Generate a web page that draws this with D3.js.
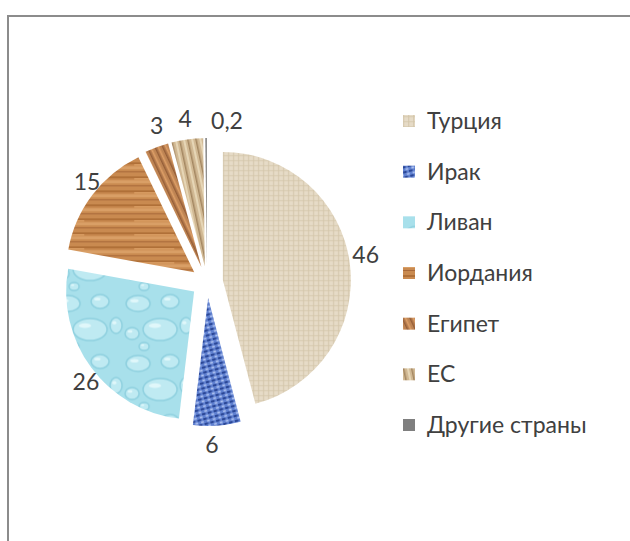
<!DOCTYPE html>
<html>
<head>
<meta charset="utf-8">
<script src="https://cdn.jsdelivr.net/npm/d3@7"></script>
<style>
  body { margin: 0; background: #fff; }
  text { font-family: Lato, "Open Sans", sans-serif; fill: #404040; }
</style>
</head>
<body>
<div id="chart"></div>
<script>
// Data (shares, %)
const countries = ["Турция", "Ирак", "Ливан", "Иордания", "Египет", "ЕС", "Другие страны"];
const shares = [46, 6, 26, 15, 3, 4, 0.2];
const textures = ["burlap", "denim", "water", "wood", "walnut", "oak", "grey"];

// small label nudges (px), like Excel's "outside end" placement
const labelNudge = [[2, -7], [-6, 5], [6, 6], [6, -5], [5, -8], [0, -7], [21, -3]];

const W = 630, H = 541;
const cx = 207, cy = 282, radius = 128, explode = 16;

const svg = d3.select("#chart").append("svg")
    .attr("width", W)
    .attr("height", H);

// frame of the chart area
svg.append("path")
    .attr("d", `M8,${H} V16 H${W}`)
    .attr("fill", "none")
    .attr("stroke", "#8c8c8c")
    .attr("stroke-width", 2);

// ---- textures ----
const defs = svg.append("defs");

// burlap
let p = defs.append("pattern").attr("id", "burlap").attr("patternUnits", "userSpaceOnUse")
    .attr("width", 5).attr("height", 5);
p.append("rect").attr("width", 5).attr("height", 5).attr("fill", "#e6dbc7");
p.append("rect").attr("width", 1.3).attr("height", 5).attr("fill", "#cfc0a3").attr("opacity", 0.6);
p.append("rect").attr("width", 5).attr("height", 1.3).attr("fill", "#d4c6aa").attr("opacity", 0.6);

// denim
p = defs.append("pattern").attr("id", "denim").attr("patternUnits", "userSpaceOnUse")
    .attr("width", 6).attr("height", 5).attr("patternTransform", "rotate(-15)");
p.append("rect").attr("width", 6).attr("height", 5).attr("fill", "#5f80d0");
p.append("rect").attr("x", 0).attr("y", 0).attr("width", 3.5).attr("height", 2).attr("fill", "#2b4796");
p.append("rect").attr("x", 3.2).attr("y", 2.6).attr("width", 2.6).attr("height", 1.8).attr("fill", "#b3c6f2");

// water drops
p = defs.append("pattern").attr("id", "water").attr("patternUnits", "userSpaceOnUse")
    .attr("width", 70).attr("height", 60);
p.append("rect").attr("width", 70).attr("height", 60).attr("fill", "#a8e0eb");
[[14, 12, 12, 8], [46, 10, 9, 7], [36, 38, 17, 11], [8, 42, 7, 6], [62, 34, 6, 8], [20, 55, 5, 4]].forEach(e => {
  p.append("ellipse").attr("cx", e[0]).attr("cy", e[1]).attr("rx", e[2]).attr("ry", e[3])
    .attr("fill", "#bfeaf2").attr("stroke", "#8ed0df").attr("stroke-width", 1.5);
  p.append("ellipse").attr("cx", e[0] - e[2] * 0.3).attr("cy", e[1] - e[3] * 0.35)
    .attr("rx", e[2] * 0.35).attr("ry", e[3] * 0.22).attr("fill", "#e8fafd").attr("opacity", 0.8);
});

// wood (orange)
p = defs.append("pattern").attr("id", "wood").attr("patternUnits", "userSpaceOnUse")
    .attr("width", 90).attr("height", 14);
p.append("rect").attr("width", 90).attr("height", 14).attr("fill", "#c98a50");
p.append("rect").attr("y", 2).attr("width", 90).attr("height", 2).attr("fill", "#b07038");
p.append("rect").attr("y", 6).attr("width", 90).attr("height", 3).attr("fill", "#d99f66");
p.append("rect").attr("y", 11).attr("width", 90).attr("height", 1).attr("fill", "#a8693a");
p.append("rect").attr("x", 30).attr("y", 4).attr("width", 40).attr("height", 1).attr("fill", "#e8ad72");

// walnut (darker wood)
p = defs.append("pattern").attr("id", "walnut").attr("patternUnits", "userSpaceOnUse")
    .attr("width", 7).attr("height", 60).attr("patternTransform", "rotate(-25)");
p.append("rect").attr("width", 7).attr("height", 60).attr("fill", "#be8453");
p.append("rect").attr("x", 1).attr("width", 1.5).attr("height", 60).attr("fill", "#965f38");
p.append("rect").attr("x", 4).attr("width", 1.5).attr("height", 60).attr("fill", "#dd9e66");

// oak (tan)
p = defs.append("pattern").attr("id", "oak").attr("patternUnits", "userSpaceOnUse")
    .attr("width", 8).attr("height", 60).attr("patternTransform", "rotate(-12)");
p.append("rect").attr("width", 8).attr("height", 60).attr("fill", "#d1b994");
p.append("rect").attr("x", 1).attr("width", 1.5).attr("height", 60).attr("fill", "#a38660");
p.append("rect").attr("x", 5).attr("width", 2).attr("height", 60).attr("fill", "#e6d6b6");

// grey
p = defs.append("pattern").attr("id", "grey").attr("patternUnits", "userSpaceOnUse")
    .attr("width", 4).attr("height", 4);
p.append("rect").attr("width", 4).attr("height", 4).attr("fill", "#7f7f7f");

// ---- pie ----
const pie = d3.pie().sort(null).value(d => d.value);
const arcs = pie(countries.map((c, i) => ({ name: c, value: shares[i], tex: textures[i] })));

const arc = d3.arc().innerRadius(0).outerRadius(radius);
const dir = a => [Math.sin(a), -Math.cos(a)];

const g = svg.append("g").attr("transform", `translate(${cx},${cy})`);

g.selectAll(".slice")
    .data(arcs)
    .join("path")
    .attr("class", "slice")
    .attr("d", arc)
    .attr("transform", d => {
      const [ux, uy] = dir((d.startAngle + d.endAngle) / 2);
      return `translate(${ux * explode},${uy * explode})`;
    })
    .attr("fill", d => `url(#${d.data.tex})`);

// data labels
const fmt = v => String(v).replace(".", ",");
g.selectAll(".lbl")
    .data(arcs)
    .join("text")
    .attr("class", "lbl")
    .attr("text-anchor", "middle")
    .attr("dy", "0.35em")
    .attr("font-size", 23)
    .attr("x", (d, i) => dir((d.startAngle + d.endAngle) / 2)[0] * 158 + labelNudge[i][0])
    .attr("y", (d, i) => dir((d.startAngle + d.endAngle) / 2)[1] * 158 + labelNudge[i][1])
    .text(d => fmt(d.data.value));

// ---- legend ----
const ly = d3.scalePoint().domain(countries).range([121, 425]);
const legend = svg.append("g").selectAll("g")
    .data(countries)
    .join("g")
    .attr("transform", d => `translate(403,${ly(d)})`);

legend.append("rect")
    .attr("y", -6)
    .attr("width", 12)
    .attr("height", 12)
    .attr("fill", (d, i) => `url(#${textures[i]})`);

legend.append("text")
    .attr("x", 24)
    .attr("dy", "0.35em")
    .attr("font-size", 23)
    .text(d => d);
</script>
</body>
</html>
